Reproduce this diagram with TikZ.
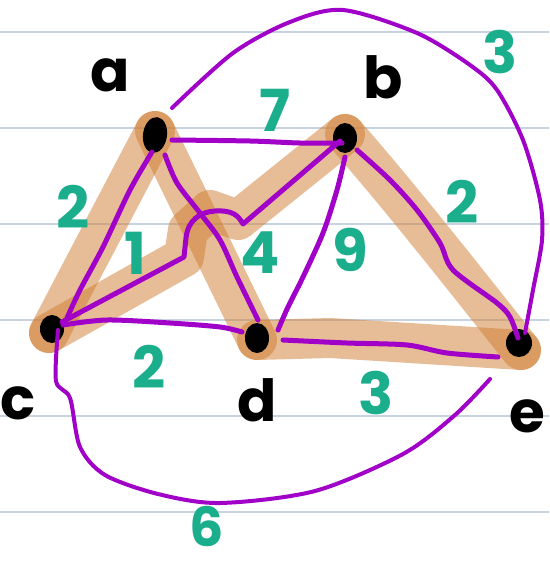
\documentclass[tikz,border=0pt]{standalone}
\usepackage{fontspec}
\setmainfont{Poppins}
\usetikzlibrary{shapes.geometric}
\definecolor{pur}{RGB}{160,0,200}
\definecolor{tealg}{RGB}{26,174,140}
\definecolor{org}{RGB}{209,125,49}
\definecolor{rulec}{RGB}{200,211,224}
\tikzset{
  band/.style={draw=org, opacity=0.5, line width=40pt, line cap=round, line join=round},
  pedge/.style={draw=pur, line width=5pt, line cap=round, line join=round},
  vtx/.style={ellipse, fill=black, inner sep=0pt},
  vlab/.style={font=\fontsize{58}{58}\selectfont\bfseries, text=black, inner sep=0pt},
  wlab/.style={font=\fontsize{58}{58}\selectfont\bfseries, text=tealg, inner sep=0pt},
}
\begin{document}
\begin{tikzpicture}[x=1pt,y=-1pt]
\useasboundingbox (0,0) rectangle (549,562);
\fill[white] (0,0) rectangle (549,562);
\foreach \yy in {32,128,224,320,416,512} \draw[rulec, line width=1.6pt] (0,\yy) -- (549,\yy);

% node centres
\coordinate (ca) at (155,131);
\coordinate (cb) at (345,134);
\coordinate (cc) at (49,333);
\coordinate (cd) at (257,340);
\coordinate (ce) at (521,350);

% orange highlight bands
\draw[band] (ca) -- (cc);
\draw[band] (ca) -- (cd);
\draw[band] (cc) -- (184,257) -- (188,230) -- (210,210) -- (238,220) -- (cb);
\draw[band] (cb) .. controls (390,185) and (450,260) .. (ce);
\draw[band] (cd) -- (330,338) -- (ce);

% vertices
\node[vtx, minimum width=24pt, minimum height=36pt, rotate=-8] (a) at (155,135) {};
\node[vtx, minimum width=24pt, minimum height=30pt] (b) at (345,138) {};
\node[vtx, minimum width=24pt, minimum height=28pt] (c) at (52,329) {};
\node[vtx, minimum width=24pt, minimum height=30pt] (d) at (257,338) {};
\node[vtx, minimum width=26pt, minimum height=28pt] (e) at (519,343) {};

% purple edges
\draw[pedge] plot[smooth] coordinates {(172,140) (250,141) (300,143) (342,143)};
\draw[pedge] plot[smooth] coordinates {(152,152) (130,190) (103,247) (80,290) (67,318)};
\draw[pedge] (62,322) -- (184,257) -- (186,238) .. controls (188,220) and (200,212) .. (215,211) .. controls (232,210) and (238,215) .. (243,224) -- (340,141);
\draw[pedge] plot[smooth] coordinates {(165,155) (177,183) (200,213) (220,240) (237,277) (258,320)};
\draw[pedge] plot[smooth] coordinates {(345,157) (337,190) (323,233) (303,277) (288,307) (278,330)};
\draw[pedge] plot[smooth] coordinates {(357,150) (390,180) (417,210) (440,243) (453,270) (497,303) (510,317) (518,338)};
\draw[pedge] plot[smooth] coordinates {(283,340) (347,343) (407,345) (447,353) (498,357)};
\draw[pedge] plot[smooth] coordinates {(63,325) (107,320) (170,323) (220,327) (242,332)};
\draw[pedge, line width=4pt] plot[smooth] coordinates {(172,108) (233,53) (290,22) (343,10) (417,33) (470,65) (497,90) (523,140) (540,200) (542,240) (533,290) (525,333)};
\draw[pedge, line width=4pt] plot[smooth] coordinates {(58,330) (56,381) (70,398) (80,447) (105,475) (158,494) (220,503) (315,491) (403,454) (455,415) (490,379)};

% vertex labels
\node[vlab] (la) at (110,75) {a};
\node[vlab] (lb) at (383,77) {b};
\node[vlab] (lc) at (18,403) {c};
\node[vlab] (ld) at (257,400) {d};
\node[vlab] (le) at (527,416) {e};

% weights
\node[wlab] (w7) at (275,110) {7};
\node[wlab] (w2a) at (73,207) {2};
\node[wlab] (w1) at (135,253) {1};
\node[wlab] (w4) at (260,253) {4};
\node[wlab] (w9) at (350,250) {9};
\node[wlab] (w2b) at (462,202) {2};
\node[wlab] (w2c) at (149,367) {2};
\node[wlab] (w3a) at (376,393) {3};
\node[wlab] (w3b) at (500,52) {3};
\node[wlab, font=\fontsize{54}{54}\selectfont\bfseries] (w6) at (207,526) {6};
\end{tikzpicture}
\end{document}
